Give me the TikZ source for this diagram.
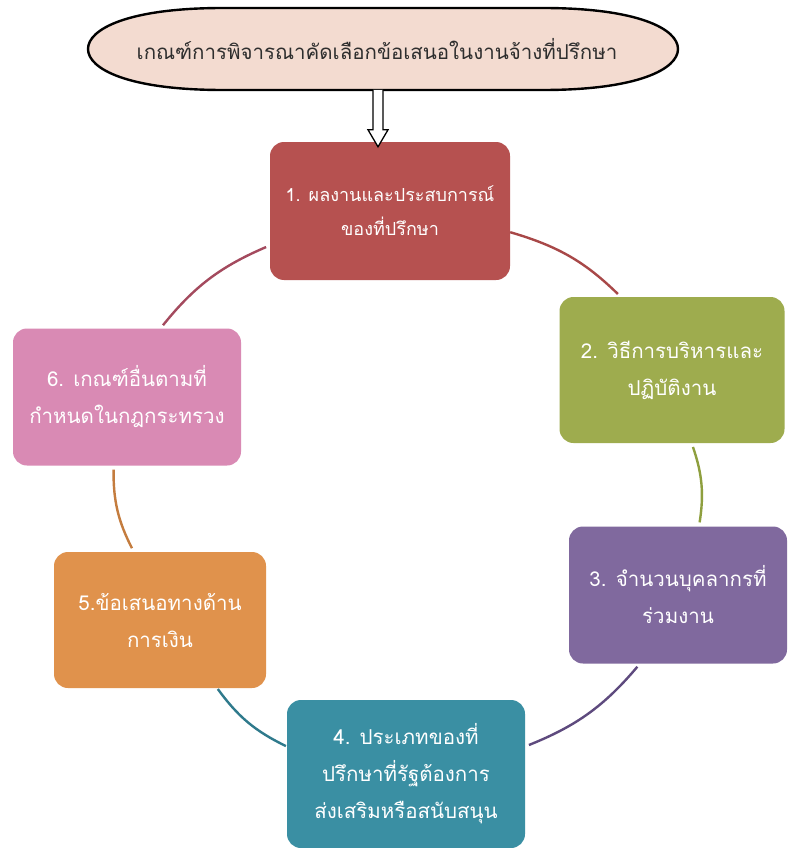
\documentclass[tikz,border=0pt]{standalone}
\usepackage{fontspec}
\newfontfamily\thaifont[Script=Thai]{Loma}
\usetikzlibrary{arrows.meta,calc}

\definecolor{titlefill}{HTML}{F3DBD0}
\definecolor{titletext}{HTML}{2E2E2E}
\definecolor{boxA}{HTML}{B65150}
\definecolor{boxB}{HTML}{9EAC4E}
\definecolor{boxC}{HTML}{80699E}
\definecolor{boxD}{HTML}{3A8FA3}
\definecolor{boxE}{HTML}{E0924C}
\definecolor{boxF}{HTML}{D98AB4}
\definecolor{lineA}{HTML}{A84848}
\definecolor{lineB}{HTML}{8E9F3E}
\definecolor{lineC}{HTML}{5E4A7E}
\definecolor{lineD}{HTML}{2F7A8C}
\definecolor{lineE}{HTML}{C47C3E}
\definecolor{lineF}{HTML}{A44A5E}

\tikzset{
  stepbox/.style={rounded corners=14pt, text=white, align=center,
    inner sep=0pt, font=\thaifont\fontsize{20.5}{37}\selectfont},
  ring/.style={line width=2.4pt, bend left=14, shorten <=4pt, shorten >=4pt},
}

\begin{document}
\begin{tikzpicture}[x=1pt,y=-1pt]
\useasboundingbox (0,0) rectangle (792,848);
\fill[white] (0,0) rectangle (792,848);

% title: flattened oval behind the heading
\coordinate (tc) at (383,49);
\draw[line width=2.4pt, fill=titlefill]
  ($(tc)+(-295,0)$) .. controls ($(tc)+(-295,-20)$) and ($(tc)+(-255,-41)$) .. ($(tc)+(-160,-41)$)
  -- ($(tc)+(160,-41)$) .. controls ($(tc)+(255,-41)$) and ($(tc)+(295,-20)$) .. ($(tc)+(295,0)$)
  .. controls ($(tc)+(295,20)$) and ($(tc)+(255,41)$) .. ($(tc)+(160,41)$)
  -- ($(tc)+(-160,41)$) .. controls ($(tc)+(-255,41)$) and ($(tc)+(-295,20)$) .. cycle;
\node[inner sep=0pt, text=titletext, font=\thaifont\fontsize{20.5}{24}\selectfont] (title) at (377,49)
  {เกณฑ์การพิจารณาคัดเลือกข้อเสนอในงานจ้างที่ปรึกษา};
\coordinate (titlebase) at (383,90);

% the six criteria
\node[stepbox, fill=boxA, minimum width=240pt, minimum height=138pt,
      font=\thaifont\fontsize{18}{34}\selectfont] (n1) at (390,211)
  {1. ผลงานและประสบการณ์\\ของที่ปรึกษา};
\node[stepbox, fill=boxB, minimum width=225pt, minimum height=146pt] (n2) at (672,370)
  {2. วิธีการบริหารและ\\ปฏิบัติงาน};
\node[stepbox, fill=boxC, minimum width=218pt, minimum height=137pt] (n3) at (678,595)
  {3. จำนวนบุคลากรที่\\ร่วมงาน};
\node[stepbox, fill=boxD, minimum width=238pt, minimum height=148pt] (n4) at (406,774)
  {4. ประเภทของที่\\ปรึกษาที่รัฐต้องการ\\ส่งเสริมหรือสนับสนุน};
\node[stepbox, fill=boxE, minimum width=212pt, minimum height=136pt] (n5) at (160,620)
  {5.ข้อเสนอทางด้าน\\การเงิน};
\node[stepbox, fill=boxF, minimum width=228pt, minimum height=137pt] (n6) at (127,397)
  {6. เกณฑ์อื่นตามที่\\กำหนดในกฎกระทรวง};

% hollow block arrow from the title to the first criterion
\coordinate (ax) at (378,0);
\coordinate (atop) at (titlebase -| ax);
\coordinate (atip) at ([yshift=-5pt]n1.north -| ax);
\draw[line width=1.3pt, fill=white, line join=miter]
  ($(atop)+(-5,0)$) -- ($(atip)+(-5,-17)$) -- ($(atip)+(-10,-17)$) -- (atip)
  -- ($(atip)+(10,-17)$) -- ($(atip)+(5,-17)$) -- ($(atop)+(5,0)$);

% ring of connectors
\draw[ring, lineA, shorten <=0pt] (n1.-10) to (n2.125);
\draw[ring, lineB] (n2.-75) to (n3.73);
\draw[ring, lineC] (n3.241) to (n4.13);
\draw[ring, lineD, shorten <=1pt, shorten >=1pt] (n4.167) to (n5.-50);
\draw[ring, lineE] (n5.111) to (n6.259);
\draw[ring, lineF] (n6.64) to (n1.196);
\end{tikzpicture}
\end{document}
